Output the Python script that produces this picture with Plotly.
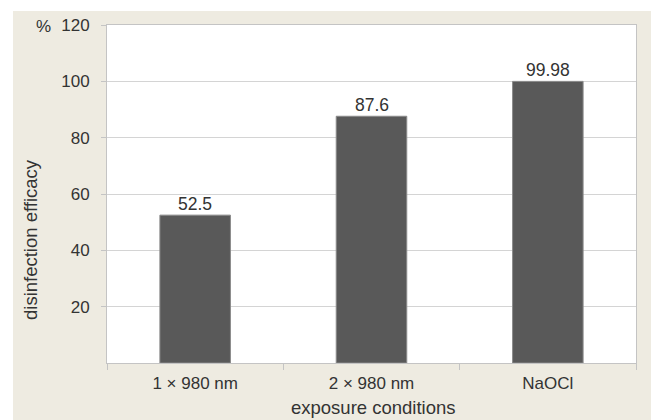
import plotly.graph_objects as go

categories = ["1 × 980 nm", "2 × 980 nm", "NaOCl"]
values = [52.5, 87.6, 99.98]
value_labels = ["52.5", "87.6", "99.98"]
y_ticks = [20, 40, 60, 80, 100, 120]

W, H = 651, 420
L, R, T, B = 107, 15, 25, 57
pw, ph = W - L - R, H - T - B

def px_x(x):
    return (x - L) / pw

def px_y(y):
    return (H - B - y) / ph

FAM = "Liberation Sans, Arial, sans-serif"
COL = "#333333"
tick_font = dict(family=FAM, size=17, color=COL)
label_font = dict(family=FAM, size=17.5, color=COL)
title_font = dict(family=FAM, size=18.5, color=COL)

fig = go.Figure()
fig.add_trace(go.Bar(
    x=categories, y=values,
    marker=dict(color="#595959", line=dict(color="#8a8a8a", width=1)),
    width=0.4,
))

annotations = [
    dict(text="%", xref="paper", yref="paper", x=px_x(43.5), y=px_y(26),
         showarrow=False, font=tick_font, xanchor="center", yanchor="middle"),
    dict(text="disinfection efficacy", xref="paper", yref="paper",
         x=px_x(30), y=px_y(240), textangle=-90, showarrow=False,
         font=title_font, xanchor="center", yanchor="middle"),
    dict(text="exposure conditions", xref="paper", yref="paper",
         x=px_x(373), y=px_y(408), showarrow=False, font=title_font,
         xanchor="center", yanchor="middle"),
]
for c, v, t in zip(categories, values, value_labels):
    annotations.append(dict(text=t, x=c, y=v, xref="x", yref="y",
                            showarrow=False, font=label_font,
                            xanchor="center", yanchor="bottom", yshift=-1))

fig.update_layout(
    width=W, height=H,
    margin=dict(l=L, r=R, t=T, b=B),
    paper_bgcolor="white", plot_bgcolor="white",
    font=tick_font, showlegend=False,
    shapes=[
        dict(type="rect", xref="paper", yref="paper", layer="below",
             x0=px_x(13), x1=px_x(700), y0=px_y(480), y1=px_y(11),
             fillcolor="#eeebe1", line=dict(width=0)),
        dict(type="rect", xref="paper", yref="paper", layer="below",
             x0=0, x1=1, y0=0, y1=1, fillcolor="white", line=dict(width=0)),
    ],
    annotations=annotations,
)
fig.update_xaxes(
    showline=True, linecolor="#c4c4c4", linewidth=1, mirror=True,
    ticks="outside", tickson="boundaries", ticklen=6, tickcolor="#c4c4c4",
    showgrid=False, tickfont=tick_font, ticklabelstandoff=5,
)
fig.update_yaxes(
    range=[0, 120], tickvals=y_ticks, ticks="outside", ticklen=5,
    tickcolor="#c4c4c4", showline=True, linecolor="#c4c4c4", linewidth=1,
    mirror=True, showgrid=True, gridcolor="#d4d4d4", gridwidth=1,
    zeroline=False, tickfont=tick_font, ticklabelstandoff=8,
)

fig.write_html("out.html", config={"displayModeBar": False},
               post_script="document.body.style.margin='0';document.body.style.overflow='hidden';")
